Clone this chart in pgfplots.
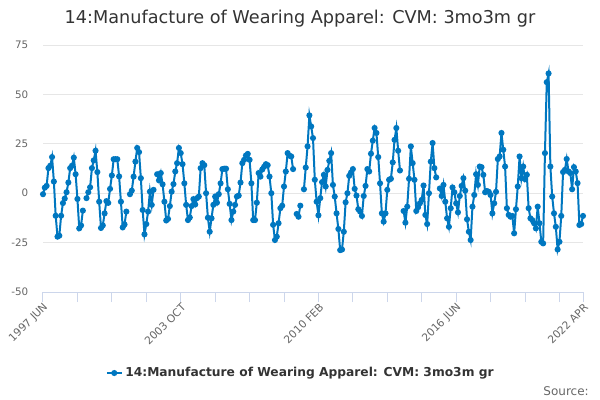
\documentclass[border=0pt]{standalone}
\usepackage{fontspec}
\setmainfont{DejaVu Sans}
\usepackage{pgfplots}
\pgfplotsset{compat=1.18}
\definecolor{series}{RGB}{0,119,192}
\definecolor{gridc}{RGB}{230,230,230}
\definecolor{axisc}{RGB}{204,214,235}
\definecolor{labc}{RGB}{102,102,102}
\definecolor{titc}{RGB}{51,51,51}
\begin{document}
\begin{tikzpicture}
\path[use as bounding box] (-32.25pt,-81pt) rectangle (417.75pt,219pt);
\begin{axis}[
  at={(0pt,0pt)}, anchor=south west,
  scale only axis, width=405pt, height=185.25pt,
  xmin=0, xmax=298, ymin=-50, ymax=75,
  ytick={-50,-25,0,25,50,75},
  xtick={0,76,152,228,298},
  xticklabels={1997 JUN,2003 OCT,2010 FEB,2016 JUN,2022 APR},
  minor xtick={19,38,57,95,114,133,171,190,209,247,266,285},
  /pgf/number format/assume math mode=true,
  axis x line*=bottom, axis y line*=left,
  x axis line style={axisc, line width=0.75pt, -},
  y axis line style={draw=none},
  ymajorgrids, grid style={gridc, line width=0.75pt},
  xtick pos=bottom, ytick pos=left, tick align=outside,
  xtick style={axisc, line width=0.75pt},
  minor x tick style={axisc, line width=0.75pt},
  major tick length=7.5pt, minor tick length=7.5pt,
  ytick style={draw=none},
  xticklabel style={rotate=45, anchor=east, text=labc, font=\fontsize{8pt}{9.5pt}\selectfont, inner sep=1pt, yshift=-3.5pt, xshift=1pt},
  yticklabel style={text=labc, font=\fontsize{7.75pt}{9pt}\selectfont},
  clip=false,
  unbounded coords=jump,
  legend style={at={(0.478,-0.328)}, anchor=center, draw=none, fill=none,
    font=\bfseries\fontsize{9.2pt}{11pt}\selectfont, text=titc,
    legend cell align=left},
  legend image code/.code={\draw[series,line width=1.5pt] (0pt,0pt) -- (11pt,0pt); \fill[series] (5.5pt,0pt) circle (1.5pt);},
]
\addplot[series, line width=1.5pt, mark=*, mark size=1.5pt, mark options={solid,fill=series,draw=series}] table[x=i,y=v] {
i v
0 -0.5
1 2.8
2 3.7
3 12.7
4 13.9
5 18.3
6 5.9
7 -11.4
8 -22
9 -21.5
10 -11.4
11 -5
12 -2.7
13 0.5
14 5.4
15 12.7
16 13.9
17 18
18 9.6
19 -2.9
20 -17.8
21 -16.3
22 -8.8
23 nan
24 -2.5
25 0.5
26 3
27 12.7
28 16.6
29 21.5
30 10.7
31 -4.3
32 -17.6
33 -16.3
34 -10.2
35 -4
36 -4.9
37 2.2
38 9
39 17.2
40 17.2
41 17.2
42 8.5
43 -4.3
44 -17.3
45 -15.8
46 -9.3
47 nan
48 -0.5
49 1.3
50 8.4
51 16
52 22.9
53 20.8
54 7.6
55 -8.5
56 -20.8
57 -15.6
58 -9.3
59 0.8
60 -5.9
61 1.7
62 nan
63 9.6
64 6.5
65 10.2
66 4.5
67 -4.3
68 -13.8
69 -13
70 -6.5
71 0.8
72 4.6
73 11
74 15.2
75 22.9
76 20.3
77 14.7
78 5
79 -5.9
80 -13.6
81 -12.3
82 -6.5
83 -3
84 -5.7
85 -2.5
86 -1.7
87 12.7
88 15.2
89 14.2
90 0
91 -12.4
92 -19.5
93 -12.7
94 -5.9
95 -1.7
96 -4.8
97 -0.5
98 5
99 12.2
100 12.4
101 12.4
102 2
103 -5.4
104 -13.6
105 -9.3
106 -5.9
107 -1.7
108 -1.2
109 5.4
110 15.2
111 16.9
112 19.1
113 19.9
114 16.9
115 5
116 -13.6
117 -13.6
118 -4.8
119 10.2
120 8.4
121 12
122 13.4
123 14.7
124 14.2
125 8.4
126 0
127 -16
128 -23.7
129 -22
130 -15.2
131 -7.6
132 -6.3
133 3.4
134 11
135 20.3
136 19
137 18.6
138 12.2
139 nan
140 -10.5
141 -11.9
142 -6.3
143 nan
144 2
145 13
146 23.7
147 39.4
148 33.8
149 27.9
150 6.8
151 -4.3
152 -11.2
153 -2.5
154 5.6
155 9.3
156 3.4
157 11.8
158 16.4
159 20.3
160 4.2
161 -1.7
162 -10.2
163 -18.1
164 -28.8
165 -28.5
166 -19.5
167 -4.6
168 0
169 8.8
170 10.5
171 12.2
172 2.2
173 -1.2
174 -8.1
175 -9.3
176 -11.5
177 -1.4
178 3.7
179 12.2
180 11
181 20
182 26.6
183 33
184 30.5
185 18.3
186 5
187 -10.2
188 -14.4
189 -10.2
190 1.7
191 6.8
192 7.3
193 15.6
194 27
195 33
196 21.5
197 11.5
198 nan
199 -9
200 -14.9
201 -6.8
202 7.3
203 23.7
204 15.2
205 6.8
206 -9
207 -7.1
208 -5.1
209 -3.4
210 3.9
211 -11
212 -15.6
213 0
214 16
215 25.4
216 12.7
217 8
218 nan
219 2.4
220 -1.4
221 4.2
222 -4.3
223 -12.7
224 -17
225 -7.6
226 2.9
227 0.5
228 -5.1
229 -9.7
230 -1.4
231 3.7
232 7.6
233 1.3
234 -13.2
235 -19.5
236 -23.7
237 -6.8
238 -0.9
239 9.6
240 4.2
241 13.5
242 13.2
243 9.3
244 0.5
245 1.1
246 0.7
247 -0.9
248 -10.2
249 -5.1
250 0.7
251 17.3
252 18.6
253 30.5
254 22
255 13.5
256 -7.6
257 -11
258 -11.9
259 -11.5
260 -20.3
261 -8.1
262 3.4
263 18.6
264 7.6
265 13.5
266 7.1
267 9.3
268 -7.6
269 -12.7
270 -13.6
271 -15.2
272 -17.8
273 -6.8
274 -15.2
275 -24.6
276 -25.4
277 20.3
278 56.2
279 60.6
280 13.5
281 -1.7
282 -10.2
283 -17
284 -28.5
285 -24.6
286 -11.5
287 10.7
288 11.8
289 17.3
290 11
291 10.2
292 2
293 13.2
294 11
295 5.1
296 -16.1
297 -15.6
298 -11.5
};
\addlegendentry{14:Manufacture of Wearing Apparel: CVM: 3mo3m gr}
\end{axis}
\node[anchor=base,text=titc,font=\fontsize{13.25pt}{16pt}\selectfont] at (192.75pt,201pt) {14:Manufacture of Wearing Apparel: CVM: 3mo3m gr};
\node[anchor=base east,text=labc,font=\fontsize{9pt}{11pt}\selectfont,inner sep=0pt] at (409.5pt,-77.25pt) {Source:};
\end{tikzpicture}
\end{document}
